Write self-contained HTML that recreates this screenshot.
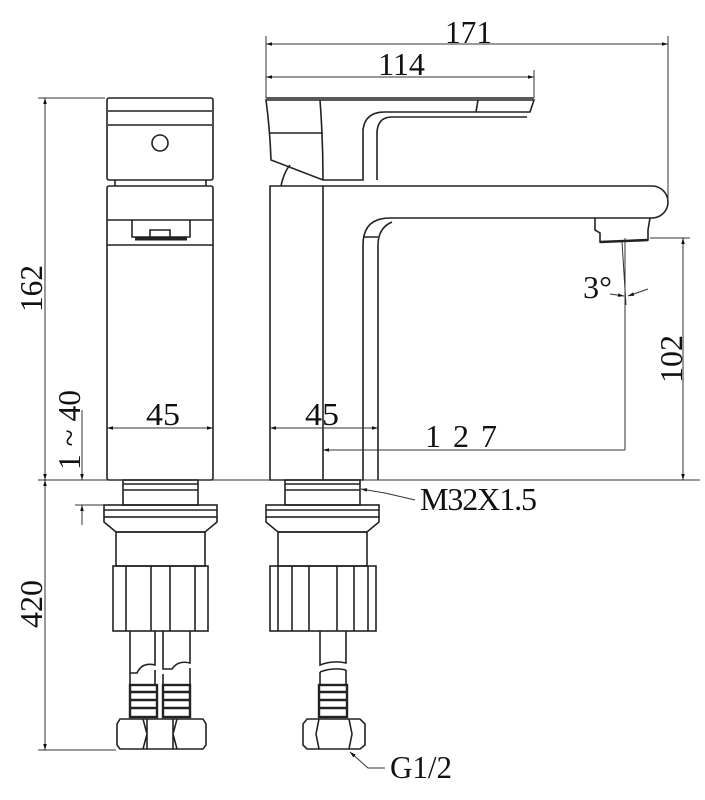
<!DOCTYPE html>
<html><head><meta charset="utf-8"><style>
html,body{margin:0;padding:0;background:#fff;}
svg{display:block;}
text{font-family:"Liberation Serif",serif;fill:#111;}
</style></head><body>
<svg width="705" height="800" viewBox="0 0 705 800" xmlns="http://www.w3.org/2000/svg">
<defs>
<marker id="a" viewBox="0 0 10 10" refX="10" refY="5" markerWidth="10" markerHeight="6" orient="auto-start-reverse" markerUnits="userSpaceOnUse"><path d="M0,2 L10,5 L0,8z" fill="#111"/></marker>
</defs>
<g fill="none" stroke="#222" stroke-width="1.6">
<rect x="107" y="98" width="106" height="82" rx="2"/>
<line x1="108" y1="111" x2="212" y2="111"/>
<line x1="108" y1="125" x2="212" y2="125"/>
<circle cx="160" cy="143" r="8"/>
<line x1="115" y1="180" x2="115" y2="186"/><line x1="206" y1="180" x2="206" y2="186"/>
<rect x="107" y="186" width="106" height="294" rx="2"/>
<line x1="107" y1="220" x2="213" y2="220"/>
<line x1="107" y1="245" x2="213" y2="245"/>
<path d="M132 220 V237 H190 V220"/>
<path d="M150 237 V230 H170 V237"/>
<line x1="135" y1="239" x2="187" y2="239" stroke-width="3"/>
<rect x="123" y="480" width="75" height="25"/>
<line x1="123" y1="484" x2="198" y2="484"/><line x1="123" y1="490" x2="198" y2="490"/>
<rect x="104" y="505" width="113" height="12"/>
<line x1="104" y1="510" x2="217" y2="510"/>
<path d="M104 517 L104 522 L116 532 L205 532 L217 522 L217 517"/>
<rect x="116" y="532" width="89" height="34"/>
<rect x="113" y="566" width="95" height="65"/>
<line x1="126" y1="566" x2="126" y2="631"/><line x1="151" y1="566" x2="151" y2="631"/><line x1="170" y1="566" x2="170" y2="631"/><line x1="195" y1="566" x2="195" y2="631"/>
<path d="M130 631 V673 H137 Q142 662 155 665 V631"/>
<path d="M163 631 V669 H172 Q178 660 190 663 V631"/>
<path d="M130 673 V685 M155 670 V685 M163 674 V685 M190 668 V685"/>
<g stroke-width="2.4"><rect x="130" y="685" width="27" height="32"/><rect x="163" y="685" width="27" height="32"/>
<line x1="131" y1="692" x2="156" y2="692"/><line x1="131" y1="700" x2="156" y2="700"/><line x1="131" y1="708" x2="156" y2="708"/>
<line x1="164" y1="692" x2="189" y2="692"/><line x1="164" y1="700" x2="189" y2="700"/><line x1="164" y1="708" x2="189" y2="708"/></g>
<path d="M120 719 H203 L206 724 V745 L203 749 H120 L117 745 V724z"/>
<path d="M143 719 L147 734 L143 749 M177 719 L173 734 L177 749 M147 719 L147 749 M173 719 L173 749"/>
<path d="M266 100 H534 L530 112 H385 Q365 112 363 130 V180 H323 L271 160 Q270 130 266 100z"/>
<line x1="266" y1="98" x2="534" y2="98"/>
<path d="M377 180 V132 Q378 117 392 117 H527"/>
<line x1="478" y1="100" x2="476" y2="112"/>
<path d="M320 100 Q323 140 323 180"/>
<line x1="270" y1="133" x2="323" y2="133"/>
<path d="M281 186 Q284 172 290 165"/>
<path d="M270 186 H652 A16 16 0 0 1 652 218 H390 Q363 218 363 245 V480 H270z"/>
<path d="M378 480 V245 Q378 228 392 222 M363 237 H378"/>
<line x1="323" y1="186" x2="323" y2="480"/>
<path d="M595 218 V230 L600 233 V242 L648 240 V230 L650 218"/>
<line x1="600" y1="242" x2="648" y2="240" stroke-width="2.6"/>
<rect x="285" y="480" width="75" height="25"/>
<line x1="285" y1="484" x2="360" y2="484"/><line x1="285" y1="490" x2="360" y2="490"/>
<rect x="266" y="505" width="113" height="12"/>
<line x1="266" y1="510" x2="379" y2="510"/>
<path d="M266 517 L266 522 L278 532 L367 532 L379 522 L379 517"/>
<rect x="278" y="532" width="89" height="34"/>
<rect x="270" y="566" width="106" height="65"/>
<line x1="278" y1="566" x2="278" y2="631"/><line x1="292" y1="566" x2="292" y2="631"/><line x1="309" y1="566" x2="309" y2="631"/><line x1="337" y1="566" x2="337" y2="631"/><line x1="354" y1="566" x2="354" y2="631"/><line x1="368" y1="566" x2="368" y2="631"/>
<path d="M320 631 V665 Q333 660 346 663 V631 M320 672 Q333 667 346 670 M320 672 V685 M346 670 V685"/>
<g stroke-width="2.4"><rect x="319" y="685" width="28" height="32"/>
<line x1="320" y1="692" x2="346" y2="692"/><line x1="320" y1="700" x2="346" y2="700"/><line x1="320" y1="708" x2="346" y2="708"/></g>
<path d="M307 719 H360 L365 724 V745 L360 749 H307 L303 745 V724z"/>
<path d="M319 719 L316 734 L319 749 M349 719 L352 734 L349 749"/>
</g>
<g fill="none" stroke="#333" stroke-width="1">
<line x1="266" y1="36" x2="266" y2="98"/><line x1="668" y1="36" x2="668" y2="200"/>
<line x1="266" y1="44" x2="668" y2="44" marker-start="url(#a)" marker-end="url(#a)"/>
<line x1="534" y1="70" x2="534" y2="98"/>
<line x1="266" y1="77" x2="534" y2="77" marker-start="url(#a)" marker-end="url(#a)"/>
<line x1="38" y1="98" x2="105" y2="98"/><line x1="38" y1="480" x2="700" y2="480"/><line x1="38" y1="750" x2="116" y2="750"/>
<line x1="45" y1="98" x2="45" y2="480" marker-start="url(#a)" marker-end="url(#a)"/>
<line x1="45" y1="480" x2="45" y2="750" marker-start="url(#a)" marker-end="url(#a)"/>
<line x1="82" y1="410" x2="82" y2="480" marker-end="url(#a)"/>
<line x1="82" y1="525" x2="82" y2="505" marker-end="url(#a)"/>
<line x1="75" y1="505" x2="104" y2="505"/>
<line x1="107" y1="428" x2="213" y2="428" marker-start="url(#a)" marker-end="url(#a)"/>
<line x1="270" y1="428" x2="378" y2="428" marker-start="url(#a)" marker-end="url(#a)"/>
<line x1="323" y1="450" x2="625" y2="450" marker-start="url(#a)"/>
<line x1="625" y1="238" x2="625" y2="450"/>
<line x1="650" y1="238" x2="690" y2="238"/>
<line x1="683" y1="238" x2="683" y2="480" marker-start="url(#a)" marker-end="url(#a)"/>
<line x1="622" y1="242" x2="626" y2="305"/>
<line x1="610" y1="294" x2="624" y2="296" marker-end="url(#a)"/>
<line x1="648" y1="289" x2="628" y2="296" marker-end="url(#a)"/>
<polyline points="415,500 385,493 361,489" marker-end="url(#a)"/>
<polyline points="385,768 368,768 350,752" marker-end="url(#a)"/>
</g>
<g font-size="32">
<text x="445" y="43" textLength="47" lengthAdjust="spacingAndGlyphs">171</text>
<text x="378" y="75" textLength="47" lengthAdjust="spacingAndGlyphs">114</text>
<text x="146" y="425" textLength="34" lengthAdjust="spacingAndGlyphs">45</text>
<text x="305" y="425" textLength="34" lengthAdjust="spacingAndGlyphs">45</text>
<text x="425" y="447" textLength="72" lengthAdjust="spacing">127</text>
<text x="583" y="298" textLength="29" lengthAdjust="spacingAndGlyphs">3°</text>
<text x="420" y="510" textLength="117" lengthAdjust="spacing">M32X1.5</text>
<text x="390" y="778" textLength="62" lengthAdjust="spacingAndGlyphs">G1/2</text>
<text transform="translate(42,312) rotate(-90)" textLength="47" lengthAdjust="spacingAndGlyphs">162</text>
<text transform="translate(42,628) rotate(-90)" textLength="48" lengthAdjust="spacingAndGlyphs">420</text>
<text transform="translate(682,383) rotate(-90)" textLength="48" lengthAdjust="spacingAndGlyphs">102</text>
<text transform="translate(80,470) rotate(-90)" textLength="80" lengthAdjust="spacingAndGlyphs">1 ~ 40</text>
</g>
</svg>
</body></html>
